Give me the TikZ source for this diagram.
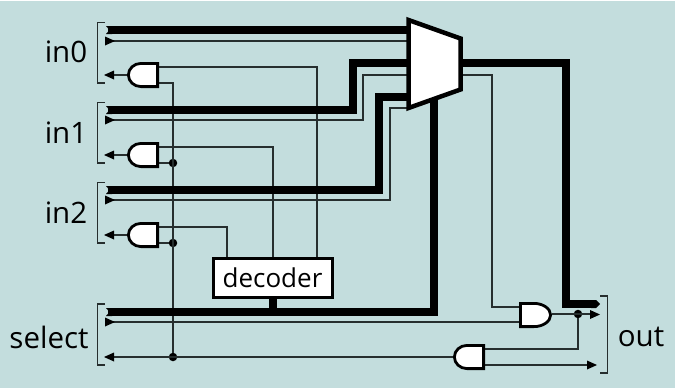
\documentclass[tikz,border=0pt]{standalone}
\usepackage{fontspec}
\setmainfont{Open Sans}
\definecolor{bgc}{HTML}{C3DDDD}
\definecolor{thin}{HTML}{262E2E}
\tikzset{
  x=1pt,y=-1pt,
  thinw/.style={draw=thin,line width=1.25pt},
  thickw/.style={draw=black,line width=8pt,line join=miter},
  gatebody/.style={draw=black,fill=white,line width=2.8pt,line join=miter},
  brack/.style={draw=thin,line width=1.1pt},
  lbl/.style={font=\fontsize{29.5}{34}\selectfont,inner sep=0pt},
  declbl/.style={font=\fontsize{26}{30}\selectfont,inner sep=0pt},
  dotn/.style={circle,fill=black,inner sep=0pt,minimum size=8.5pt},
}
\newcommand{\andL}[2]{% flat side right: outer right edge x, outer top y
  \draw[gatebody] (#1-1.4,#2+1.4) -- (#1-18,#2+1.4) .. controls (#1-25,#2+1.4) and (#1-30.6,#2+6.6) .. (#1-30.6,#2+13) .. controls (#1-30.6,#2+19.4) and (#1-25,#2+24.6) .. (#1-18,#2+24.6) -- (#1-1.4,#2+24.6) -- cycle;}
\newcommand{\tipL}[2]{\fill (#1,#2) -- (#1+10,#2-4.5) -- (#1+10,#2+4.5) -- cycle;}
\newcommand{\tipR}[2]{\fill (#1,#2) -- (#1-10,#2-4.5) -- (#1-10,#2+4.5) -- cycle;}
\newcommand{\tipS}[1]{\fill (105,#1-4.5) -- (115,#1) -- (105,#1+4.5) -- cycle;}
\newcommand{\busstart}[1]{\fill (106,#1-4) -- (112,#1-4) -- (112,#1+4) -- (106,#1+4) -- (109.5,#1) -- cycle;}
\begin{document}
\begin{tikzpicture}
\useasboundingbox (0,0) rectangle (675,389);
\fill[bgc] (0,1) rectangle (675,388);
% named points
\coordinate (b0) at (108,30); \coordinate (t0) at (108,41);
\coordinate (b1) at (108,110); \coordinate (t1) at (108,120);
\coordinate (b2) at (108,190); \coordinate (t2) at (108,200);
\coordinate (bs) at (108,312); \coordinate (ts) at (108,322);
\coordinate (m0) at (408,30); \coordinate (mt0) at (408,41);
\coordinate (m1) at (408,63); \coordinate (mt1) at (408,75);
\coordinate (m2) at (408,97); \coordinate (mt2) at (408,108);
\coordinate (mo) at (460,63); \coordinate (mto) at (460,75);
\coordinate (ms) at (434,100);
\coordinate (a0o) at (114,75); \coordinate (a1o) at (114,155); \coordinate (a2o) at (114,235);
\coordinate (a0t) at (158,67); \coordinate (a0b) at (158,83);
\coordinate (a1t) at (158,147); \coordinate (a1b) at (158,163);
\coordinate (a2t) at (158,227); \coordinate (a2b) at (158,243);
\coordinate (a3t) at (520,307); \coordinate (a3b) at (520,322); \coordinate (a3o) at (552,314);
\coordinate (a4t) at (484,349); \coordinate (a4b) at (484,365); \coordinate (a4o) at (454,357);
\coordinate (oo) at (592,314); \coordinate (vo) at (590,365); \coordinate (vi) at (114,357);
\coordinate (bo) at (592,304);
\node[dotn] (d1) at (173,163) {};
\node[dotn] (d2) at (173,243) {};
\node[dotn] (d3) at (173,357) {};
\node[dotn] (d4) at (578,314) {};
% thin wires
\draw[thinw] (t0) -- (mt0);
\draw[thinw] (t1) -| (363,75) -- (mt1);
\draw[thinw] (t2) -| (390,108) -- (mt2);
\draw[thinw] (ts) -- (a3b);
\draw[thinw] (mto) -| (492,307) -- (a3t);
\draw[thinw] (a3o) -- (oo);
\draw[thinw] (d4) |- (a4t);
\draw[thinw] (a4b) -- (vo);
\draw[thinw] (a4o) -- (vi);
\draw[thinw] (a0b) -| (d3);
\draw[thinw] (a0o) -- (127,75);
\draw[thinw] (a1o) -- (127,155);
\draw[thinw] (a2o) -- (127,235);
\draw[thinw] (a1b) -- (d1);
\draw[thinw] (a2b) -- (d2);
\draw[thinw] (a0t) -| (317,258);
\draw[thinw] (a1t) -| (273,258);
\draw[thinw] (a2t) -| (227,258);
% thick buses
\draw[thickw] (b0) -- (m0);
\draw[thickw] (b1) -| (352.5,63) -- (m1);
\draw[thickw] (b2) -| (379,97) -- (m2);
\draw[thickw] (bs) -| (ms);
\draw[thickw] (mo) -| (566,304) -- (bo);
\fill (591,300) -- (596,300) -- (600,304) -- (596,308) -- (591,308) -- cycle;
\busstart{30}\busstart{110}\busstart{190}\busstart{312}
% arrow tips
\tipS{41}\tipS{120}\tipS{200}\tipS{322}
\tipL{104}{75}\tipL{104}{155}\tipL{104}{235}\tipL{104}{357}
\tipR{600}{314.5}\tipR{597}{365}
% brackets
\draw[brack] (105,22.5) -- (97.5,22.5) -- (97.5,83) -- (105,83);
\draw[brack] (105,102.5) -- (97.5,102.5) -- (97.5,163) -- (105,163);
\draw[brack] (105,182.5) -- (97.5,182.5) -- (97.5,243) -- (105,243);
\draw[brack] (105,304) -- (97.5,304) -- (97.5,365) -- (105,365);
\draw[brack] (600,296) -- (607.5,296) -- (607.5,373) -- (600,373);
% gates
\andL{159}{62}\andL{159}{142}\andL{159}{222}
\draw[gatebody] (520.4,303.4) -- (534,303.4) .. controls (543,303.4) and (550.6,308.6) .. (550.6,315) .. controls (550.6,321.4) and (543,326.6) .. (534,326.6) -- (520.4,326.6) -- cycle;
\andL{485}{344}
% mux
\draw[draw=black,fill=white,line width=4.5pt,line join=miter] (408.5,20) -- (460.5,38.5) -- (460.5,89.5) -- (408.5,108) -- cycle;
% decoder
\node[draw=black,fill=white,line width=3pt,minimum width=119pt,minimum height=39pt,inner sep=0pt,declbl] (dec) at (272.5,277.5) {decoder};
\draw[black,line width=8pt] (dec.south) -- (bs -| dec.south);
% labels
\node[lbl] (in0) at (66,52) {in0};
\node[lbl] (in1) at (66,133) {in1};
\node[lbl] (in2) at (66,213) {in2};
\node[lbl] (sel) at (49,337) {select};
\node[lbl] (out) at (641,337) {out};
\end{tikzpicture}
\end{document}
